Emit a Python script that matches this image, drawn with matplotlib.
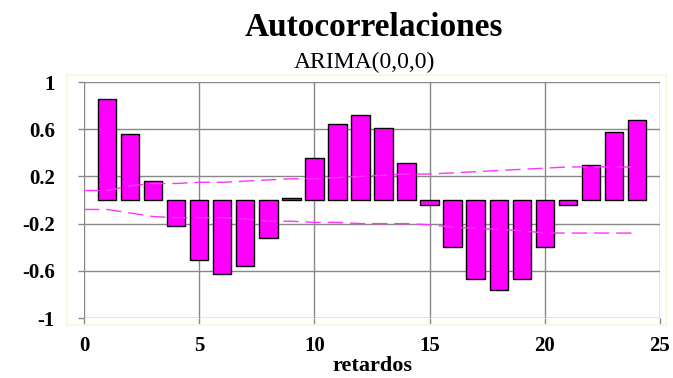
import matplotlib
matplotlib.use("Agg")
import matplotlib.pyplot as plt
import numpy as np

plt.rcParams["font.family"] = ["Liberation Serif", "DejaVu Serif"]

# ── datos ──
lags = list(range(1, 25))
acf = [0.86, 0.56, 0.16, -0.22, -0.51, -0.63, -0.56, -0.32, 0.02, 0.36, 0.64, 0.72,
       0.61, 0.31, -0.04, -0.40, -0.67, -0.76, -0.67, -0.40, -0.04, 0.30, 0.58, 0.68]

band_lags = list(range(0, 25))
band_up = [0.08, 0.08, 0.12, 0.14, 0.14, 0.15, 0.15, 0.16, 0.17, 0.18, 0.18, 0.19, 0.20,
           0.21, 0.22, 0.22, 0.23, 0.24, 0.25, 0.26, 0.27, 0.28, 0.28, 0.28, 0.28]
band_lo = [-0.08, -0.08, -0.11, -0.14, -0.15, -0.15, -0.15, -0.16, -0.18, -0.18, -0.19,
           -0.19, -0.20, -0.20, -0.20, -0.21, -0.23, -0.24, -0.25, -0.26, -0.28, -0.28,
           -0.28, -0.28, -0.28]

xticks = [0, 5, 10, 15, 20, 25]
yticks = [-1, -0.6, -0.2, 0.2, 0.6, 1]
ytick_labels = ["-1", "-0.6", "-0.2", "0.2", "0.6", "1"]

fig = plt.figure(figsize=(6.73, 3.78), dpi=100)
ax = fig.add_axes([84 / 673, 1 - 318 / 378, (660 - 84) / 673, (318 - 82) / 378])

# marco amarillo claro del area de grafico
fig.patches.append(plt.Rectangle((67 / 673, 1 - 325 / 378), (666 - 67) / 673, (325 - 75) / 378,
                                 transform=fig.transFigure, fill=False,
                                 edgecolor="#f8f8d8", linewidth=1.2, zorder=0))

ax.bar(lags, acf, width=0.8, color="#ff00ff", edgecolor="black", linewidth=1.0, zorder=3)
ax.plot(band_lags, band_up, color="#ff33ff", linewidth=1.0, dashes=(11, 5), zorder=4)
ax.plot(band_lags, band_lo, color="#ff33ff", linewidth=1.0, dashes=(11, 5), zorder=4)

ax.set_xlim(0, 25)
ax.set_ylim(-1, 1)
ax.set_xticks(xticks)
ax.set_yticks(yticks)
ax.set_yticklabels(ytick_labels)
ax.grid(True, color="#888888", linewidth=1.0, zorder=0)
ax.set_axisbelow(True)
for s in ax.spines.values():
    s.set_visible(False)
ax.tick_params(length=4, width=1.0, color="#888888", labelsize=15)
ax.tick_params(axis="y", pad=17)
ax.tick_params(axis="x", pad=9)
for lab in ax.get_xticklabels() + ax.get_yticklabels():
    lab.set_fontweight("bold")

ax.set_xlabel("retardos", fontsize=16, fontweight="bold", labelpad=0)
fig.text(0.555, 1 - 28 / 378, "Autocorrelaciones", ha="center", va="center",
         fontsize=24, fontweight="bold")
fig.text(0.541, 1 - 62 / 378, "ARIMA(0,0,0)", ha="center", va="center", fontsize=17)

fig.savefig("out.png", dpi=100)
